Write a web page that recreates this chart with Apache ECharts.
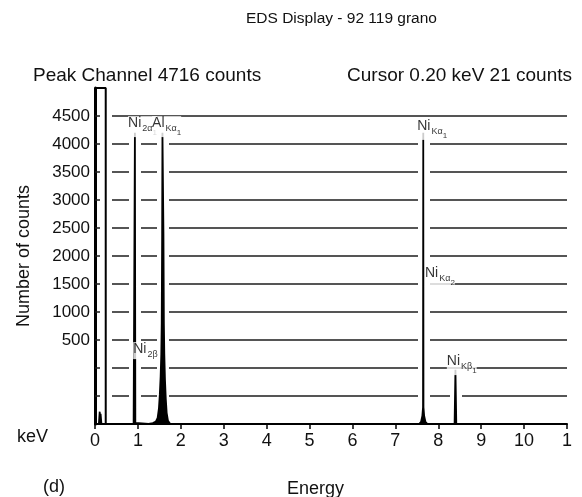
<!DOCTYPE html>
<html>
<head>
<meta charset="utf-8">
<script src="https://cdn.jsdelivr.net/npm/echarts@6/dist/echarts.min.js"></script>
<style>
  html, body { margin: 0; padding: 0; background: #fff; }
  #chart { width: 582px; height: 497px; }
</style>
</head>
<body>
<div id="chart"></div>
<script>
// ---------- data ----------
// spectrum trace (energy in keV, counts on the display scale)
const specKeV = [0, 0.09, 0.11, 0.12, 0.13, 0.15,
  0.90, 0.92, 0.93, 0.94, 0.96,
  1.25, 1.35, 1.42, 1.46, 1.49, 1.51, 1.53, 1.545, 1.555, 1.565, 1.572,
  1.588, 1.595, 1.605, 1.615, 1.63, 1.65, 1.67, 1.70, 1.75, 1.80,
  7.55, 7.60, 7.63, 7.645, 7.65, 7.655, 7.67, 7.70, 7.75,
  8.38, 8.40, 8.42, 11];
const specCounts = [-1000, -1000, -780, -1000, -820, -1000,
  -1000, -980, 4200, -980, -1000,
  -1000, -985, -955, -890, -720, -480, -150, 250, 800, 2400, 4200,
  4200, 2400, 800, 250, -200, -560, -800, -940, -995, -1000,
  -1000, -960, -850, -700, 4200, -700, -850, -960, -1000,
  -1000, -30, -1000, -1000];

// peak lines (used for the gaps the display leaves in the grid lines)
const peakKeV = [0.93, 1.58, 7.65, 8.40];
const peakTop = [4200, 4200, 4200, -30];

const cursorKeV = 0.25;

// peak annotations
const labelKeV = [0.77, 1.33, 7.51, 7.69, 0.89, 8.20];
const labelCounts = [4400, 4400, 4350, 1720, 400, 150];
const labelMain = ['Ni', 'Al', 'Ni', 'Ni', 'Ni', 'Ni'];
const labelSub = ['2α', 'Kα', 'Kα', 'Kα', '2β', 'Kβ'];
const labelSub2 = ['1', '1', '1', '2', '', '1'];

// axes
const xTickLabels = ['0', '1', '2', '3', '4', '5', '6', '7', '8', '9', '10', '1'];
const gridCounts = [-500, 0, 500, 1000, 1500, 2000, 2500, 3000, 3500, 4000, 4500];

const FONT = '"Liberation Sans", Arial, sans-serif';
const INK = '#111';

const chart = echarts.init(document.getElementById('chart'));

const spectrum = specKeV.map((e, i) => [e, specCounts[i]]);

const halo = peakKeV.map((e, i) => [
  { coord: [e, -700] }, { coord: [e, peakTop[i]] }
]);
halo.push([{ coord: [cursorKeV, -700] }, { coord: [cursorKeV, 4800] }]);

const labels = labelKeV.map((e, i) => ({
  value: [e, labelCounts[i]],
  label: {
    formatter: '{m|' + labelMain[i] + '}{s|' + labelSub[i] + '}' +
      (labelSub2[i] ? '{t|' + labelSub2[i] + '}' : '')
  }
}));

const option = {
  animation: false,
  backgroundColor: '#fff',
  textStyle: { fontFamily: FONT },
  grid: { left: 95, right: 15, top: 88, bottom: 73 },
  graphic: [
    { type: 'text', left: 246, top: 11, style: {
      text: 'EDS Display - 92 119 grano', font: '15.5px ' + FONT, fill: INK } },
    { type: 'text', left: 33, top: 66, style: {
      text: 'Peak Channel 4716 counts', font: '19px ' + FONT, fill: INK } },
    { type: 'text', right: 10, top: 66, style: {
      text: 'Cursor 0.20 keV 21 counts', font: '19px ' + FONT, fill: INK } },
    { type: 'text', left: 17, top: 428, style: {
      text: 'keV', font: '18px ' + FONT, fill: INK } },
    { type: 'text', left: 43, top: 478, style: {
      text: '(d)', font: '18px ' + FONT, fill: INK } },
    { type: 'text', left: 287, top: 480, style: {
      text: 'Energy', font: '18px ' + FONT, fill: INK } }
  ],
  xAxis: {
    type: 'value',
    min: 0,
    max: 11,
    interval: 1,
    axisLine: { onZero: false, lineStyle: { color: '#000', width: 2 } },
    axisTick: { show: true, length: 5, lineStyle: { color: '#000', width: 1.5 } },
    axisLabel: {
      color: INK, fontSize: 18, fontFamily: FONT, margin: 8,
      formatter: v => xTickLabels[Math.round(v)]
    },
    splitLine: { show: false }
  },
  yAxis: {
    type: 'value',
    min: -1000,
    max: 5000,
    interval: 500,
    name: 'Number of counts',
    nameLocation: 'middle',
    nameRotate: 90,
    nameGap: 62,
    nameTextStyle: { color: INK, fontSize: 18, fontFamily: FONT },
    axisLine: { show: true, onZero: false, lineStyle: { color: '#000', width: 3 } },
    axisTick: { show: false },
    axisLabel: {
      color: INK, fontSize: 17, fontFamily: FONT, margin: 5,
      formatter: v => (v > 0 && v < 5000 ? String(v) : '')
    },
    splitLine: { show: false }
  },
  series: [
    {
      name: 'grid',
      type: 'line',
      z: 1,
      data: [[0, -1000]],
      showSymbol: false,
      lineStyle: { width: 0 },
      markLine: {
        z: 1,
        silent: true,
        symbol: 'none',
        label: { show: false },
        lineStyle: { color: '#1c1c1c', width: 1.6, type: 'solid' },
        data: gridCounts.map(v => ({ yAxis: v }))
      }
    },
    {
      name: 'halo',
      type: 'line',
      z: 2,
      data: [[0, -1000]],
      showSymbol: false,
      lineStyle: { width: 0 },
      markLine: {
        z: 2,
        silent: true,
        symbol: 'none',
        label: { show: false },
        lineStyle: { color: '#fff', width: 12, type: 'solid' },
        data: halo
      }
    },
    {
      name: 'spectrum',
      type: 'line',
      z: 3,
      data: spectrum,
      showSymbol: false,
      lineStyle: { color: '#000', width: 1.8 },
      areaStyle: { color: '#000', opacity: 1, origin: 'start' }
    },
    {
      name: 'cursor',
      type: 'line',
      z: 3,
      data: [[0, 5000], [cursorKeV, 5000], [cursorKeV, -1000]],
      showSymbol: false,
      lineStyle: { color: '#000', width: 2 }
    },
    {
      name: 'labels',
      type: 'scatter',
      z: 10,
      symbolSize: 0,
      data: labels,
      label: {
        show: true,
        position: 'right',
        distance: 0,
        offset: [0, 5],
        backgroundColor: '#fff',
        color: '#000',
        rich: {
          m: { fontSize: 14, fontFamily: FONT, color: '#000', verticalAlign: 'top', padding: [0, 0, 0, 0] },
          s: { fontSize: 9, fontFamily: FONT, color: '#000', verticalAlign: 'top', padding: [8, 0, 0, 1] },
          t: { fontSize: 8, fontFamily: FONT, color: '#000', verticalAlign: 'top', padding: [13, 0, 0, 0] }
        }
      }
    }
  ]
};

chart.setOption(option);
</script>
</body>
</html>
